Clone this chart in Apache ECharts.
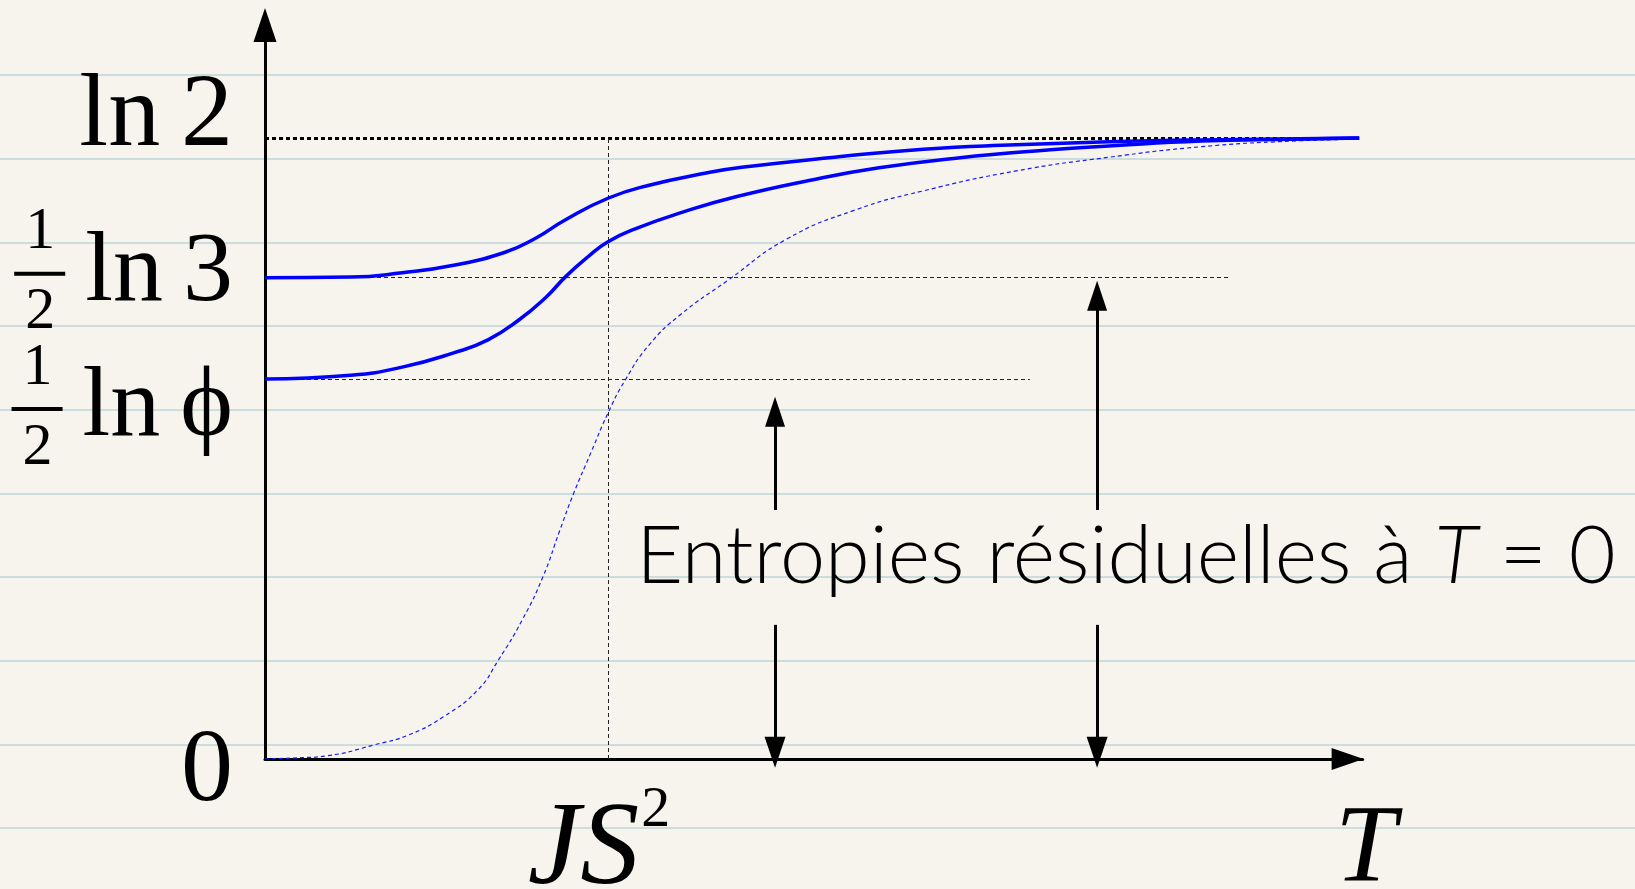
<!DOCTYPE html>
<html>
<head>
<meta charset="utf-8">
<script src="https://cdn.jsdelivr.net/npm/echarts@6/dist/echarts.min.js"></script>
<style>
  html, body { margin: 0; padding: 0; background: #f6f4ec; }
  #chart { width: 1635px; height: 889px; }
</style>
</head>
<body>
<div id="chart"></div>
<script>
// T in units of JS^2 ; S drawn so that ln 2 = 1 (sketch, not to scale)
const tUpper = [0, 0.25, 0.40, 0.55, 0.70, 0.79, 0.875, 1.0, 1.12, 1.29, 1.39, 1.66, 1.92, 2.19, 2.46, 2.73, 3.19]
const sUpper = [0.775, 0.776, 0.783, 0.795, 0.816, 0.839, 0.868, 0.903, 0.924, 0.944, 0.953, 0.969, 0.982, 0.989, 0.994, 0.997, 1.0]

const tLower = [0, 0.25, 0.40, 0.55, 0.65, 0.74, 0.82, 0.875, 0.94, 1.0, 1.085, 1.22, 1.37, 1.59, 1.79, 2.02, 2.29, 2.46, 2.73, 2.99, 3.19]
const sLower = [0.612, 0.618, 0.631, 0.654, 0.675, 0.707, 0.744, 0.776, 0.808, 0.833, 0.855, 0.881, 0.905, 0.932, 0.952, 0.968, 0.981, 0.987, 0.995, 0.998, 1.0]

const tZero = [0, 0.10, 0.18, 0.32, 0.42, 0.52, 0.62, 0.68, 0.75, 0.81, 0.86, 0.90, 0.95, 1.0, 1.05, 1.12, 1.21, 1.35, 1.52, 1.72, 1.92, 2.19, 2.46, 2.73, 2.99, 3.19]
const sZero = [0, 0.002, 0.005, 0.023, 0.039, 0.068, 0.111, 0.159, 0.224, 0.293, 0.369, 0.428, 0.493, 0.557, 0.610, 0.667, 0.715, 0.771, 0.837, 0.884, 0.915, 0.947, 0.969, 0.986, 0.995, 0.998]

// levels on the S axis: 0, 1/2 ln phi, 1/2 ln 3, ln 2
const levelValues = [0, 0.612, 0.775, 1]
const levelLabels = [
  '{sp28|\u00a0}\n{m|0}',
  '{sp56|\u00a0}\n{num|1}\n{bar|}{mf|ln\u2009\u03d5}\n{den|2}',
  '{num|1}\n{bar|}{mf|ln\u20093}\n{den|2}\n{sp12|\u00a0}',
  '{m|ln\u20092}\n{sp40|\u00a0}'
]
const levelEnds = [null, 2.23, 2.816, 3.19]   // where the dashed level lines stop

const tJS2 = 1
const tMax = 3.2
const sMax = 1.182

// annotation arrows "Entropies résiduelles"
const arrowT = [1.487, 2.426]
const arrowUpTip = [0.559, 0.746]
const arrowShaftTop = 0.401
const arrowShaftBottom = 0.216
const arrowDownTip = 0.011
const noteT = 2.51
const noteS = 0.326

const serif = '"Liberation Serif", "Times New Roman", serif'
const sans = 'Lato, "Open Sans", "Noto Sans", sans-serif'

const pairs = (xs, ys) => xs.map((x, i) => [x, ys[i]])

const chart = echarts.init(document.getElementById('chart'))

const thin = { color: '#222', width: 1, type: [4, 3] }
const guideLines = [
  [{ coord: [0, 1] }, { coord: [levelEnds[3], 1], lineStyle: { color: '#000', width: 3, type: [4, 3] } }],
  [{ coord: [0, levelValues[2]] }, { coord: [levelEnds[2], levelValues[2]], lineStyle: thin }],
  [{ coord: [0, levelValues[1]] }, { coord: [levelEnds[1], levelValues[1]], lineStyle: thin }],
  [{ coord: [tJS2, 0] }, { coord: [tJS2, 1], lineStyle: thin }]
]
const arrowLine = { color: '#000', width: 3, type: 'solid' }
arrowT.forEach((t, i) => {
  guideLines.push([
    { coord: [t, arrowShaftTop], symbol: 'none' },
    { coord: [t, arrowUpTip[i]], symbol: 'triangle', symbolSize: [20, 30], lineStyle: arrowLine }
  ])
  guideLines.push([
    { coord: [t, arrowShaftBottom], symbol: 'none' },
    { coord: [t, arrowDownTip], symbol: 'triangle', symbolSize: [21, 31], lineStyle: arrowLine }
  ])
})

const curveStyle = { showSymbol: false, smooth: 0.5 }

const option = {
  backgroundColor: '#f6f4ec',
  animation: false,
  grid: [
    { left: 265, right: 272.4, top: 25, bottom: 130, outerBoundsMode: 'none' },
    { left: 0, right: 0, top: 75, bottom: 61, outerBoundsMode: 'none', z: 0 }
  ],
  xAxis: [
    {
      type: 'value', min: 0, max: tMax, gridIndex: 0,
      splitLine: { show: false },
      axisTick: { show: false },
      axisLine: {
        onZero: false,
        lineStyle: { color: '#000', width: 3 },
        symbol: ['none', 'triangle'], symbolSize: [22, 32], symbolOffset: [0, -15]
      },
      axisLabel: {
        customValues: [tJS2],
        margin: 23,
        formatter: () => '{j|JS}{s|2}',
        rich: {
          j: { fontFamily: serif, fontStyle: 'italic', fontSize: 118, lineHeight: 140, color: '#000' },
          s: { fontFamily: serif, fontSize: 58, lineHeight: 56, verticalAlign: 'top', color: '#000', padding: [0, 18, 0, 2] }
        }
      },
      name: 'T',
      nameLocation: 'end',
      nameGap: 3,
      nameTextStyle: {
        fontFamily: serif, fontStyle: 'italic', fontSize: 110, color: '#000',
        align: 'center', verticalAlign: 'top', lineHeight: 186
      }
    },
    { type: 'value', gridIndex: 1, show: false, min: 0, max: 1 }
  ],
  yAxis: [
    {
      type: 'value', min: 0, max: sMax, gridIndex: 0,
      splitLine: { show: false },
      axisTick: { show: false },
      axisLine: {
        onZero: false,
        lineStyle: { color: '#000', width: 3 },
        symbol: ['none', 'triangle'], symbolSize: [23, 34]
      },
      axisLabel: {
        customValues: levelValues,
        margin: 32,
        formatter: (v) => {
          const i = levelValues.findIndex(l => Math.abs(l - v) < 1e-6)
          return i < 0 ? '' : levelLabels[i]
        },
        rich: {
          m: { fontFamily: serif, fontSize: 104, lineHeight: 20, color: '#000' },
          mf: { fontFamily: serif, fontSize: 100, lineHeight: 20, color: '#000', padding: [0, 0, 0, 20], align: 'left' },
          num: { fontFamily: serif, fontSize: 60, lineHeight: 62, color: '#000', padding: [0, 0, 0, 11], align: 'left' },
          den: { fontFamily: serif, fontSize: 60, lineHeight: 58, color: '#000', padding: [0, 0, 0, 11], align: 'left' },
          bar: { width: 51, height: 4, lineHeight: 20, backgroundColor: '#000', align: 'left' },
          sp12: { fontSize: 1, lineHeight: 12 },
          sp28: { fontSize: 1, lineHeight: 28 },
          sp40: { fontSize: 1, lineHeight: 40 },
          sp56: { fontSize: 1, lineHeight: 56 }
        }
      }
    },
    {
      // ruled paper lines
      type: 'value', gridIndex: 1, min: 0, max: 9, interval: 1, z: 0,
      axisLine: { show: false }, axisTick: { show: false }, axisLabel: { show: false },
      splitLine: { show: true, lineStyle: { color: 'rgba(150,192,208,0.45)', width: 2 } }
    }
  ],
  series: [
    {
      name: 'upper', type: 'line', data: pairs(tUpper, sUpper), z: 5,
      ...curveStyle,
      lineStyle: { color: '#0000ff', width: 3.5 }
    },
    {
      name: 'lower', type: 'line', data: pairs(tLower, sLower), z: 5,
      ...curveStyle,
      lineStyle: { color: '#0000ff', width: 3.5 }
    },
    {
      name: 'zero', type: 'line', data: pairs(tZero, sZero), z: 4,
      ...curveStyle,
      lineStyle: { color: '#1a1aff', width: 1.2, type: [4, 3] },
      markLine: {
        silent: true,
        symbol: ['none', 'none'],
        label: { show: false },
        lineStyle: { color: '#000' },
        data: guideLines
      },
      markPoint: {
        silent: true,
        symbol: 'circle', symbolSize: 1,
        itemStyle: { color: 'rgba(0,0,0,0)' },
        label: {
          show: true, position: 'inside',
          formatter: '{e|Entropies résiduelles à }{ei|T}{e| = 0}',
          rich: {
            e: { fontFamily: sans, fontWeight: 300, fontSize: 81, color: '#000' },
            ei: { fontFamily: sans, fontWeight: 300, fontStyle: 'italic', fontSize: 81, color: '#000' }
          }
        },
        data: [{ coord: [noteT, noteS] }]
      }
    }
  ]
}

chart.setOption(option)
</script>
</body>
</html>
